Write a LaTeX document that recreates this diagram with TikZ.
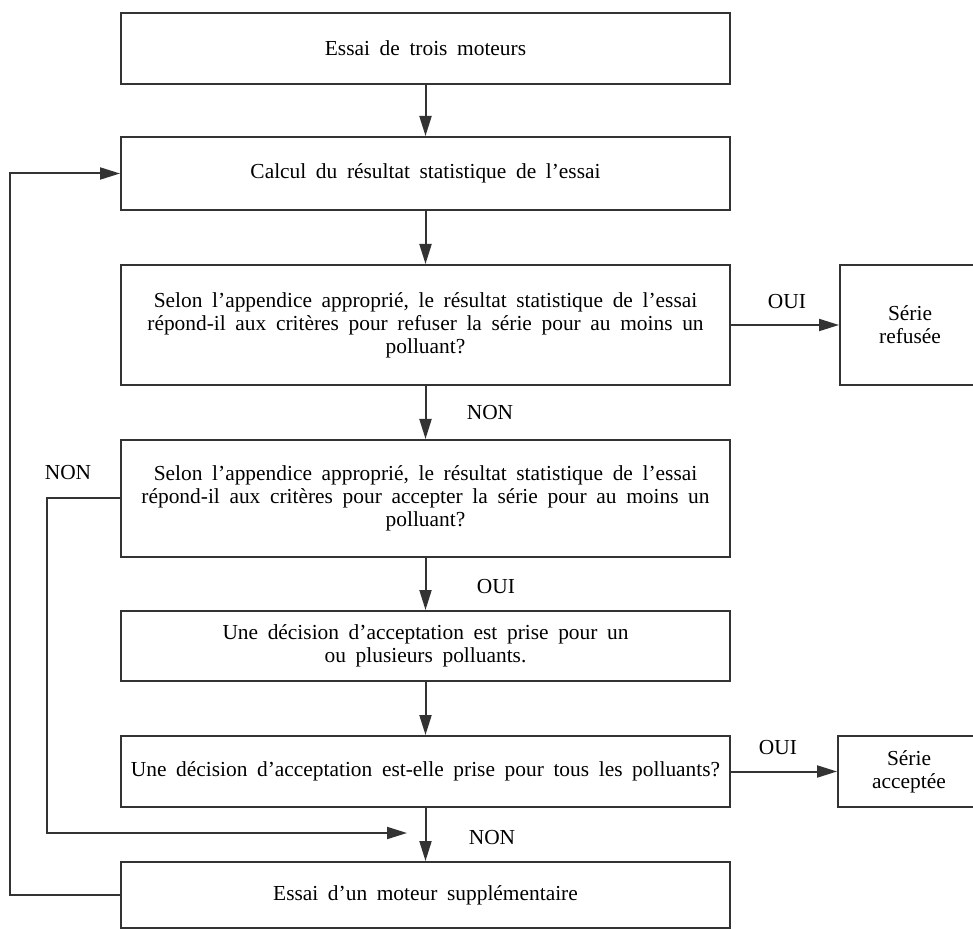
\documentclass[tikz,border=0pt]{standalone}
\usepackage{fontspec}
\setmainfont{Liberation Serif}[WordSpace=1.8]
\usetikzlibrary{arrows.meta}
\begin{document}
\begin{tikzpicture}[x=0.5pt,y=-0.5pt,
  line/.style={draw=black!80,line width=1pt},
  txt/.style={font=\fontsize{10.7}{11.5}\selectfont},
  box/.style={line, txt, rectangle, align=center, inner sep=0pt, minimum width=304.5pt},
  sidebox/.style={line, txt, rectangle, align=center, inner sep=0pt},
  arr/.style={line, -{Triangle[length=10pt,width=6pt]}},
  lbl/.style={txt, inner sep=0pt}]
\useasboundingbox (0,0) rectangle (973,929);

\node[box, minimum height=35.5pt] (b1) at (425.5,48.5) {Essai de trois moteurs};
\node[box, minimum height=36.5pt] (b2) at (425.5,173.5) {Calcul du résultat statistique de l’essai};
\node[box, minimum height=60pt] (b3) at (425.5,325) {Selon l’appendice approprié, le résultat statistique de l’essai\\ répond-il aux critères pour refuser la série pour au moins un\\ polluant?};
\node[box, minimum height=58.5pt] (b4) at (425.5,498.5) {Selon l’appendice approprié, le résultat statistique de l’essai\\ répond-il aux critères pour accepter la série pour au moins un\\ polluant?};
\node[box, minimum height=35pt] (b5) at (425.5,646) {Une décision d’acceptation est prise pour un\\ ou plusieurs polluants.};
\node[box, minimum height=35.5pt] (b6) at (425.5,771.5) {Une décision d’acceptation est-elle prise pour tous les polluants?};
\node[box, minimum height=33pt] (b7) at (425.5,895) {Essai d’un moteur supplémentaire};

\node[sidebox, minimum width=70pt, minimum height=60pt] (ref) at (910,325) {Série\\ refusée};
\node[sidebox, minimum width=71pt, minimum height=35.5pt] (acc) at (909,771.5) {Série\\ acceptée};

\draw[arr] (b1) -- (b2);
\draw[arr] (b2) -- (b3);
\draw[arr] (b3) -- (b4);
\draw[arr] (b4) -- (b5);
\draw[arr] (b5) -- (b6);
\draw[arr] (b6) -- (b7);
\draw[arr] (b3) -- (ref);
\draw[arr] (b6) -- (acc);

\coordinate (l1) at (47,833);
\coordinate (nontip) at (407,833);
\draw[arr] (b4.west) -| (l1) -- (nontip);

\coordinate (l2) at (10,895);
\draw[arr] (b7.west) -- (l2) |- (b2.west);

\node[lbl] (oui1) at (787,302) {OUI};
\node[lbl] (non1) at (490,413) {NON};
\node[lbl] (non2) at (68,473) {NON};
\node[lbl] (oui2) at (496,587) {OUI};
\node[lbl] (oui3) at (778,748) {OUI};
\node[lbl] (non3) at (492,838) {NON};
\end{tikzpicture}
\end{document}
